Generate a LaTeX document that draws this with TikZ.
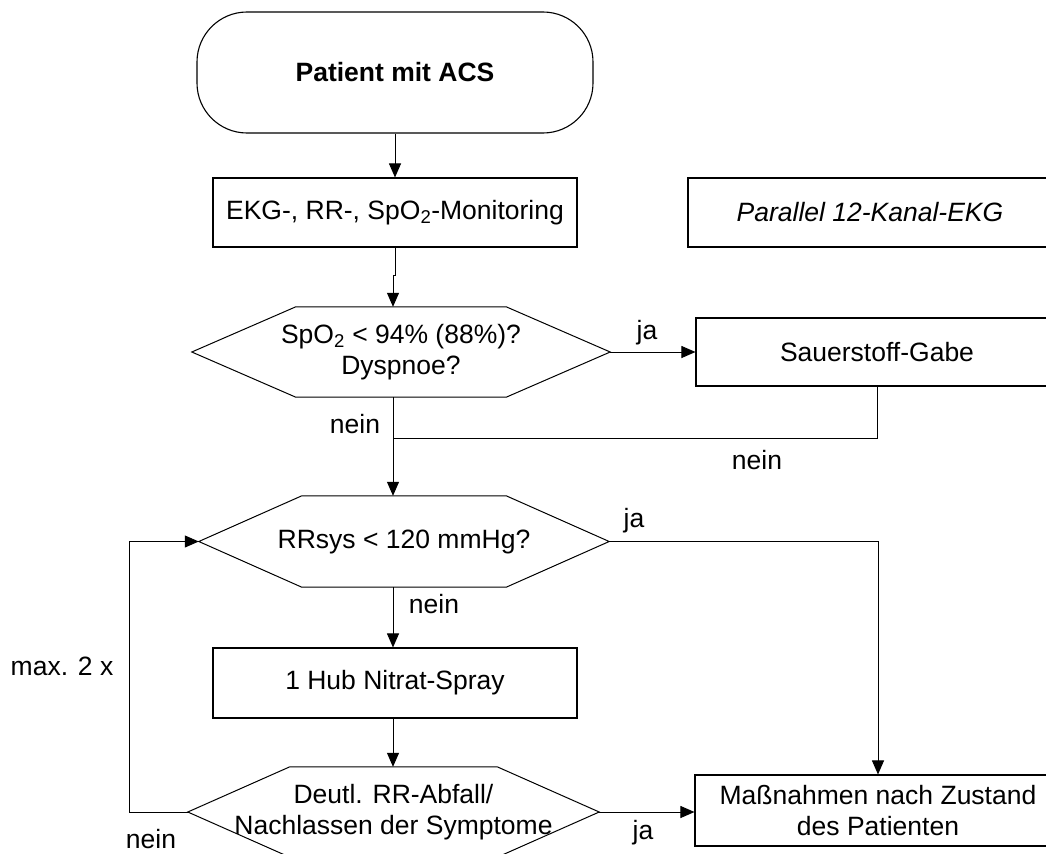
\documentclass[tikz,border=0pt]{standalone}
\usepackage{fontspec}
\setmainfont{Liberation Sans}
\usetikzlibrary{arrows.meta,calc}

% hexagonal decision outline around a (borderless) rectangular node
\newcommand\hexoutline[2]{%
  \draw[line width=1bp] ($(#1.north west)+(#2,0)$) -- ($(#1.north east)+(-#2,0)$)
    -- (#1.east) -- ($(#1.south east)+(-#2,0)$) -- ($(#1.south west)+(#2,0)$)
    -- (#1.west) -- cycle;}

\begin{document}
\begin{tikzpicture}[x=1bp,y=-1bp,
  every node/.style={font=\fontsize{26.5bp}{31bp}\selectfont, inner sep=0pt},
  line/.style={line width=1bp, draw=black},
  flow/.style={line, -{Triangle[length=14bp,width=12bp]}},
  procbox/.style={draw, line width=1.1bp, rectangle, align=center},
  startbox/.style={draw, line width=1.1bp, rectangle, rounded corners=50bp, align=center},
  hexnode/.style={rectangle, draw=none, align=center}]

\clip (0,0) rectangle (1046,854);
\fill[white] (0,0) rectangle (1046,854);

% nodes
\node[startbox, minimum width=396bp, minimum height=121bp] (start) at (395,72.5) {\bfseries Patient mit ACS};
\node[procbox, minimum width=364bp, minimum height=69bp] (ekg) at (395,212.5) {EKG-, RR-, SpO\textsubscript{2}-Monitoring};
\node[procbox, minimum width=364bp, minimum height=69bp] (par) at (870,212.5) {\itshape Parallel 12-Kanal-EKG};
\node[hexnode, minimum width=418bp, minimum height=90bp] (d1) at (401,352) {SpO\textsubscript{2} < 94\% (88\%)?\\Dyspnoe?};
\node[procbox, minimum width=362bp, minimum height=68bp] (sauer) at (877,352) {Sauerstoff-Gabe};
\node[hexnode, minimum width=410bp, minimum height=91bp] (d2) at (404,541.5) {RRsys < 120 mmHg?};
\node[procbox, minimum width=364bp, minimum height=70bp] (nitrat) at (395,683) {1 Hub Nitrat-Spray};
\node[hexnode, minimum width=411bp, minimum height=90bp] (d3) at (393.5,812) {Deutl. RR-Abfall/\\Nachlassen der Symptome};
\node[procbox, minimum width=366bp, minimum height=71bp] (mass) at (878,810.5) {Maßnahmen nach Zustand\\des Patienten};

\hexoutline{d1}{104}
\hexoutline{d2}{103}
\hexoutline{d3}{102}

% helper coordinates
\coordinate (col) at (393,0);
\coordinate (jog) at (393,275);
\coordinate (j1) at (393,438);
\coordinate (loopx) at (129,0);

% connectors
\draw[flow] (start.south) -- (ekg.north);
\draw[flow] (ekg.south) |- (jog) -- (d1.north -| col);
\draw[flow] (d1.east) -- (sauer.west);
\draw[line] (sauer.south) |- (j1);
\draw[flow] (d1.south -| col) -- (d2.north -| col);
\draw[flow] (d2.east) -| (mass.north);
\draw[flow] (d2.south -| col) -- (nitrat.north -| col);
\draw[flow] (nitrat.south -| col) -- (d3.north -| col);
\draw[flow] (d3.east) -- (d3.east -| mass.west);
\draw[flow] (d3.west) -- (d3.west -| loopx) |- (d2.west);

% labels
\node (l1) at (647,333) {ja};
\node (l2) at (355,424) {nein};
\node (l3) at (757,460) {nein};
\node (l4) at (634,521) {ja};
\node (l5) at (434,604) {nein};
\node (l6) at (62,666) {max. 2 x};
\node (l7) at (151,839) {nein};
\node (l8) at (643,833) {ja};
\end{tikzpicture}
\end{document}
